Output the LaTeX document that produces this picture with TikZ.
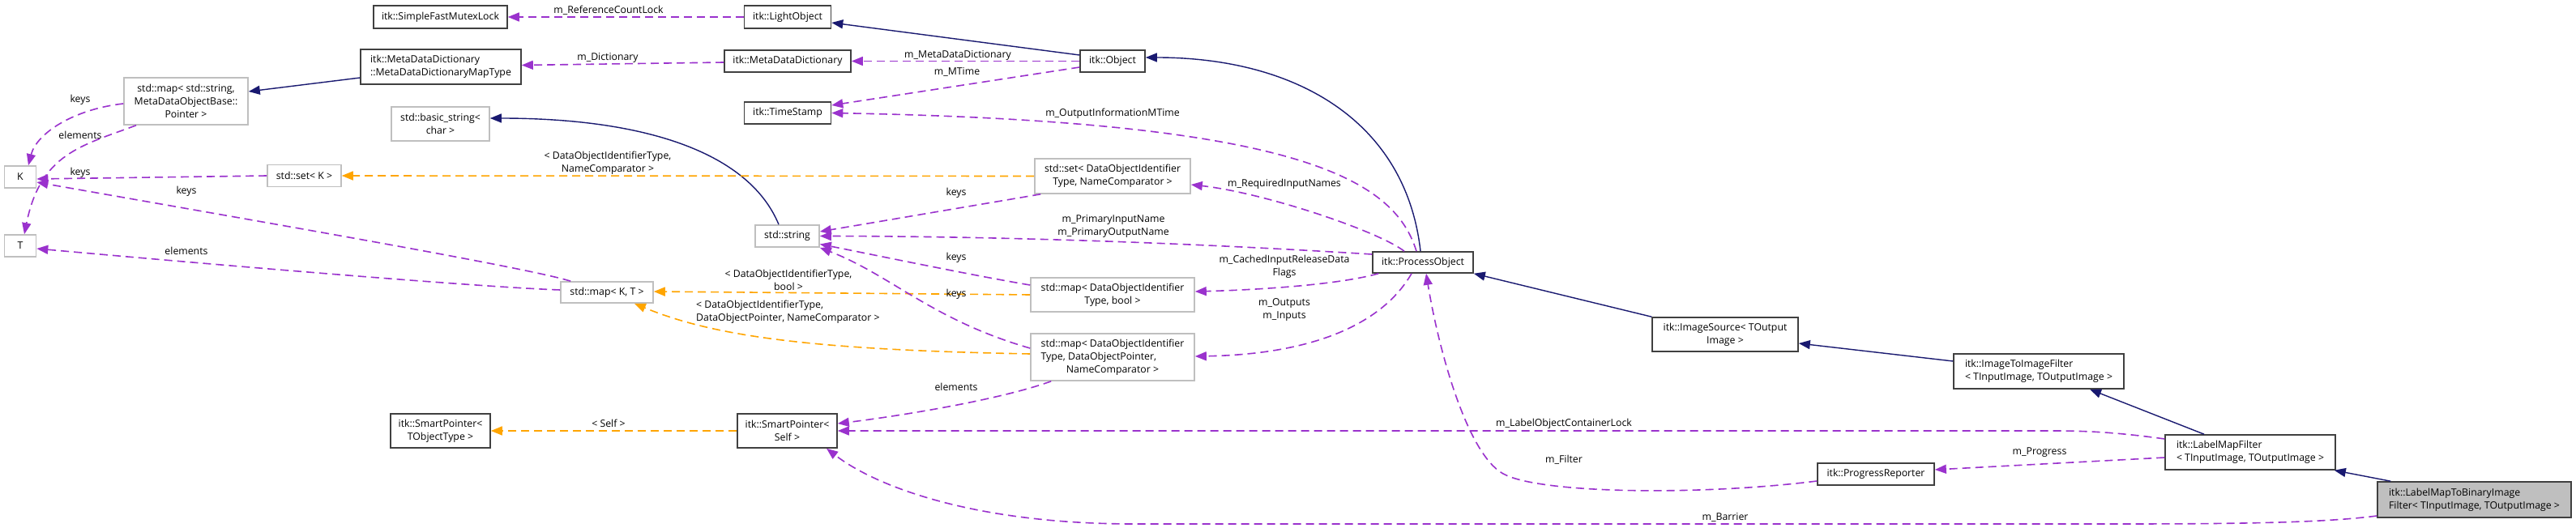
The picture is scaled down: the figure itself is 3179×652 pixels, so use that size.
\documentclass[tikz,border=0pt]{standalone}
\usepackage{fontspec}
\setmainfont{Open Sans}
\usetikzlibrary{arrows.meta,calc}
\definecolor{usec}{HTML}{9A32CD}
\definecolor{tmplc}{HTML}{FFA500}
\definecolor{inhc}{HTML}{191970}
\definecolor{docb}{HTML}{404040}
\definecolor{undocb}{HTML}{BFBFBF}
\begin{document}
\begin{tikzpicture}[x=1pt,y=-1pt,
  every node/.style={font=\fontsize{12.3}{16}\selectfont, inner sep=0pt},
  cls/.style={draw=docb, line width=1.6pt, fill=white, align=center},
  lcls/.style={cls, align=left},
  ucls/.style={cls, draw=undocb},
  usage/.style={draw=usec, line width=1.6pt, dash pattern=on 10pt off 6pt, -{Triangle[length=14pt,width=11pt]}},
  tmpl/.style={usage, draw=tmplc},
  inh/.style={draw=inhc, line width=1.4pt, -{Triangle[length=14pt,width=11pt]}},
  lbl/.style={align=center}
]
\fill[white] (0,0) rectangle (3179,652);
\useasboundingbox (0,0) rectangle (3179,652);

% ---- nodes ----
\node[cls, minimum width=165pt, minimum height=28pt] (sfml) at (543.5,21) {itk::SimpleFastMutexLock};
\node[cls, minimum width=107pt, minimum height=28pt] (lightobj) at (972,21) {itk::LightObject};
\node[lcls, minimum width=198pt, minimum height=43pt] (maptype) at (544,82.5) {itk::MetaDataDictionary\\::MetaDataDictionaryMapType};
\node[cls, minimum width=156pt, minimum height=27pt] (mdd) at (972,75.5) {itk::MetaDataDictionary};
\node[cls, minimum width=80pt, minimum height=27pt] (object) at (1373,75.5) {itk::Object};
\node[ucls, minimum width=153pt, minimum height=58pt] (mapstr) at (229.5,125) {std::map< std::string,\\MetaDataObjectBase::\\Pointer >};
\node[ucls, minimum width=121pt, minimum height=42pt] (basicstr) at (543.5,153) {std::basic\_string<\\char >};
\node[cls, minimum width=107pt, minimum height=27pt] (timestamp) at (972,139.5) {itk::TimeStamp};
\node[ucls, minimum width=39pt, minimum height=27pt] (K) at (25,218.5) {K};
\node[ucls, minimum width=91pt, minimum height=27pt] (setK) at (375.5,217) {std::set< K >};
\node[ucls, minimum width=192pt, minimum height=43pt] (setdoi) at (1373,217.5) {std::set< DataObjectIdentifier\\Type, NameComparator >};
\node[ucls, minimum width=79pt, minimum height=27pt] (stdstring) at (971.5,291.5) {std::string};
\node[ucls, minimum width=39pt, minimum height=27pt] (T) at (25,303.5) {T};
\node[cls, minimum width=124pt, minimum height=26pt] (procobj) at (1756,324) {itk::ProcessObject};
\node[ucls, minimum width=114pt, minimum height=26pt] (mapKT) at (749,361) {std::map< K, T >};
\node[ucls, minimum width=202pt, minimum height=42pt] (mapbool) at (1373,364) {std::map< DataObjectIdentifier\\Type, bool >};
\node[cls, minimum width=180pt, minimum height=42pt] (imgsrc) at (2129,413) {itk::ImageSource< TOutput\\Image >};
\node[ucls, minimum width=202pt, minimum height=58pt] (mapptr) at (1373,441) {\begin{tabular}{@{}l@{}}std::map< DataObjectIdentifier\\Type, DataObjectPointer,\\\multicolumn{1}{@{}c@{}}{NameComparator >}\end{tabular}};
\node[lcls, minimum width=210pt, minimum height=43pt] (i2i) at (2516,458.5) {itk::ImageToImageFilter\\< TInputImage, TOutputImage >};
\node[cls, minimum width=123pt, minimum height=42pt] (spT) at (543.5,532) {itk::SmartPointer<\\TObjectType >};
\node[cls, minimum width=123pt, minimum height=42pt] (spSelf) at (971.5,532) {itk::SmartPointer<\\Self >};
\node[lcls, minimum width=210pt, minimum height=43pt] (lmf) at (2777,558.5) {itk::LabelMapFilter\\< TInputImage, TOutputImage >};
\node[cls, minimum width=144pt, minimum height=27pt] (progrep) at (2315,585.5) {itk::ProgressReporter};
\node[lcls, fill=undocb, minimum width=239pt, minimum height=44pt] (lm2bin) at (3053.5,617) {itk::LabelMapToBinaryImage\\Filter< TInputImage, TOutputImage >};

% ---- edges ----
\draw[usage] (lightobj.west) -- (sfml.east);
\node[lbl] (l1) at (751,13) {m\_ReferenceCountLock};
\draw[inh] ($(object.west)+(0,-7.5)$) -- ($(lightobj.east)+(0,7)$);
\draw[usage] ($(mdd.west)+(0,1.5)$) -- ($(maptype.east)+(0,-2)$);
\node[lbl] (l2) at (750,71) {m\_Dictionary};
\draw[inh] ($(maptype.west)+(0,13.5)$) -- ($(mapstr.east)+(0,-12)$);
\draw[usage] (object.west) -- (mdd.east);
\node[lbl] (l3) at (1182,68) {m\_MetaDataDictionary};
\draw[usage] ($(object.west)+(0,7.5)$) -- ($(timestamp.east)+(0,-9.5)$);
\node[lbl] (l4) at (1181,89) {m\_MTime};
\draw[usage] ($(procobj.north)+(-8,0)$) .. controls (1720,220) and (1600,150) .. (timestamp.east);
\node[lbl] (l5) at (1373,140) {m\_OutputInformationMTime};
\draw[inh] ($(procobj.north)+(-3,0)$) .. controls (1735,150) and (1600,71) .. ($(object.east)+(0,-4.5)$);
\draw[inh] ($(stdstring.north)+(-10.5,0)$) .. controls (925,190) and (800,146) .. ($(basicstr.east)+(0,-7)$);
\draw[usage] (setK.west) -- ($(K.east)+(0,2.5)$);
\node[lbl] (l6) at (99,213) {keys};
\draw[tmpl] (setdoi.west) -- (setK.east);
\node[lbl] (l7) at (750,201) {< DataObjectIdentifierType,\\NameComparator >};
\draw[usage] ($(mapstr.west)+(0,3)$) .. controls (90,135) and (45,165) .. ($(K.north)+(10,0)$);
\node[lbl] (l8) at (99,123) {keys};
\draw[usage] ($(mapstr.south)+(-61.5,0)$) .. controls (100,180) and (50,190) .. ($(T.north)+(5,0)$);
\node[lbl] (l9) at (99,167) {elements};
\draw[usage] ($(mapKT.north west)+(13,0)$) .. controls (650,330) and (300,270) .. ($(K.east)+(0,6.5)$);
\node[lbl] (l10) at (230,236) {keys};
\draw[usage] ($(mapKT.west)+(0,-3)$) .. controls (600,355) and (300,330) .. ($(T.east)+(0,3.5)$);
\node[lbl] (l11) at (230,310) {elements};
\draw[tmpl] (mapbool.west) -- ($(mapKT.east)+(0,-1)$);
\node[lbl] (l12) at (973,346) {< DataObjectIdentifierType,\\bool >};
\draw[tmpl] ($(mapptr.west)+(0,-4)$) .. controls (1000,432) and (880,415) .. ($(mapKT.south east)+(-24,0)$);
\node[align=left, anchor=west] (l13) at (859,385) {< DataObjectIdentifierType,\\DataObjectPointer, NameComparator >};
\draw[usage] ($(setdoi.south west)+(8,0)$) -- ($(stdstring.east)+(0,-5.5)$);
\node[lbl] (l14) at (1180,238) {keys};
\draw[usage] ($(procobj.west)+(0,-10)$) .. controls (1550,305) and (1300,292) .. (stdstring.east);
\node[lbl] (l15) at (1374,279.5) {m\_PrimaryInputName\\m\_PrimaryOutputName};
\draw[usage] ($(mapbool.west)+(0,-12)$) .. controls (1200,340) and (1080,315) .. ($(stdstring.east)+(0,10)$);
\node[lbl] (l16) at (1180,318) {keys};
\draw[usage] ($(mapptr.west)+(0,-11)$) .. controls (1150,395) and (1100,340) .. ($(stdstring.south east)+(0,0)$);
\node[lbl] (l17) at (1180,363) {keys};
\draw[usage] ($(mapptr.south west)+(26,0)$) .. controls (1230,495) and (1100,515) .. ($(spSelf.east)+(0,-9)$);
\node[lbl] (l18) at (1180,478) {elements};
\draw[tmpl] (spSelf.west) -- (spT.east);
\node[lbl] (l19) at (751,523) {< Self >};
\draw[usage] ($(lmf.west)+(0,-16.5)$) .. controls (2600,532) and (2560,532) .. (2526,532) -- (spSelf.east);
\node[lbl] (l20) at (1930,523) {m\_LabelObjectContainerLock};
\draw[usage] ($(progrep.west)+(0,8.5)$) .. controls (2100,612) and (1900,610) .. (1855,585) .. controls (1810,560) and (1775,430) .. ($(procobj.south)+(4,0)$);
\node[lbl] (l21) at (1930,568) {m\_Filter};
\draw[usage] ($(lmf.west)+(0,6.5)$) -- ($(progrep.east)+(0,-5.5)$);
\node[lbl] (l22) at (2517,559) {m\_Progress};
\draw[inh] ($(lm2bin.north west)+(17,0)$) -- ($(lmf.south east)+(-2,0)$);
\draw[inh] ($(lmf.north)+(-57,0)$) -- ($(i2i.south)+(63,0)$);
\draw[inh] ($(i2i.west)+(0,-12.5)$) -- ($(imgsrc.east)+(0,11)$);
\draw[inh] (imgsrc.north west) -- (procobj.south east);
\draw[usage] ($(lm2bin.west)+(0,20)$) .. controls (2850,648) and (2700,647) .. (2500,647) -- (1400,647) .. controls (1200,647) and (1080,600) .. ($(spSelf.south)+(48.5,0)$);
\node[lbl] (l23) at (2129,639) {m\_Barrier};
\draw[usage] ($(procobj.north)+(-23,0)$) .. controls (1700,285) and (1560,238) .. ($(setdoi.east)+(0,10.5)$);
\node[lbl] (l24) at (1585,227) {m\_RequiredInputNames};
\draw[usage] ($(procobj.south west)+(8,0)$) .. controls (1650,352) and (1550,358) .. ($(mapbool.east)+(0,-4)$);
\node[lbl] (l25) at (1585,329) {m\_CachedInputReleaseData\\Flags};
\draw[usage] ($(procobj.south)+(-14,0)$) .. controls (1700,410) and (1600,438) .. ($(mapptr.east)+(0,-1)$);
\node[lbl] (l26) at (1585,383) {m\_Outputs\\m\_Inputs};
\end{tikzpicture}
\end{document}
